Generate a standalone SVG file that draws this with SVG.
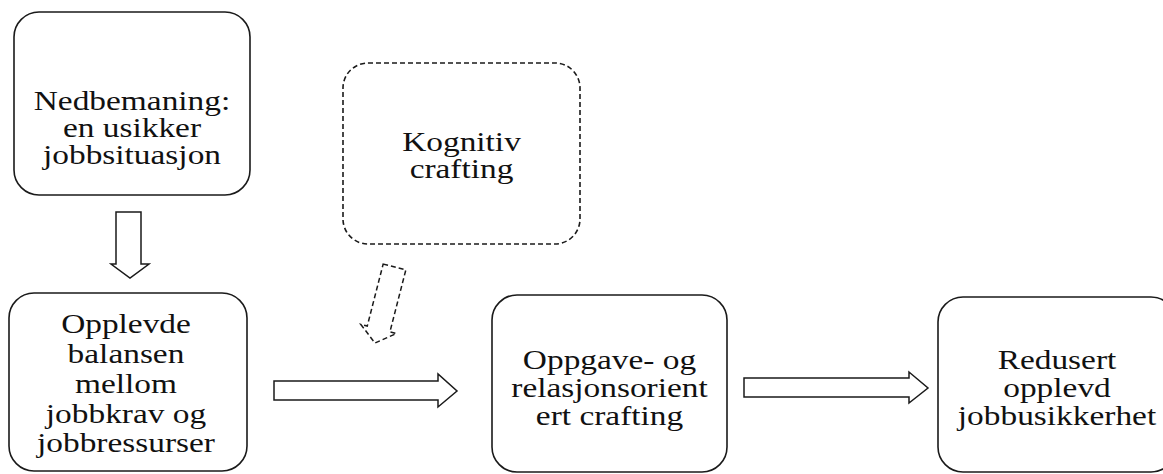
<svg xmlns="http://www.w3.org/2000/svg" width="1163" height="474" viewBox="0 0 1163 474">
<style>
.box{fill:#fff;stroke:#1a1a1a;stroke-width:1.6}
.dbox{fill:#fff;stroke:#1a1a1a;stroke-width:1.6;stroke-dasharray:5 3}
.arr{fill:#fff;stroke:#1a1a1a;stroke-width:1.5;stroke-linejoin:miter}
.darr{fill:#fff;stroke:#1a1a1a;stroke-width:1.5;stroke-dasharray:5 3}
text{font-family:"Liberation Serif","Times New Roman",serif;font-size:26.5px;fill:#111;text-anchor:middle}
</style>
<rect width="1163" height="474" fill="#fff"/>
<g id="connectors">
<path class="arr" d="M116,212 H141 V264 H149 L130,278 L111,264 H116 Z"/>
<path class="darr" transform="translate(394.5,267) rotate(14.4)" d="M-11.7,0 H11.7 V64 H18.3 L0,78.5 L-18.3,64 H-11.7 Z"/>
<path class="arr" d="M274,381 H438 V374 L457,391 L438,407 V400 H274 Z"/>
<path class="arr" d="M744,378 H909 V372 L928,388 L909,403 V397 H744 Z"/>
</g>
<g id="node-nedbemaning">
<rect class="box" x="14" y="12" width="236" height="183" rx="25"/>
<g transform="translate(132,0) scale(1.26,1)">
<text x="0" y="110">Nedbemaning:</text>
<text x="0" y="137">en usikker</text>
<text x="0" y="164">jobbsituasjon</text>
</g>
</g>
<g id="node-kognitiv">
<rect class="dbox" x="343" y="63" width="237" height="181" rx="25"/>
<g transform="translate(461.5,0) scale(1.26,1)">
<text x="0" y="151">Kognitiv</text>
<text x="0" y="178">crafting</text>
</g>
</g>
<g id="node-opplevde">
<rect class="box" x="9" y="293" width="238" height="178" rx="25"/>
<g transform="translate(126,0) scale(1.26,1)">
<text x="0" y="333">Opplevde</text>
<text x="0" y="363">balansen</text>
<text x="0" y="393">mellom</text>
<text x="0" y="423">jobbkrav og</text>
<text x="0" y="452">jobbressurser</text>
</g>
</g>
<g id="node-oppgave">
<rect class="box" x="492" y="295" width="235" height="177" rx="25"/>
<g transform="translate(609.5,0) scale(1.26,1)">
<text x="0" y="369">Oppgave- og</text>
<text x="0" y="397">relasjonsorient</text>
<text x="0" y="425">ert crafting</text>
</g>
</g>
<g id="node-redusert">
<rect class="box" x="938" y="297" width="238" height="175" rx="25"/>
<g transform="translate(1057,0) scale(1.26,1)">
<text x="0" y="369">Redusert</text>
<text x="0" y="397">opplevd</text>
<text x="0" y="425">jobbusikkerhet</text>
</g>
</g>
</svg>
